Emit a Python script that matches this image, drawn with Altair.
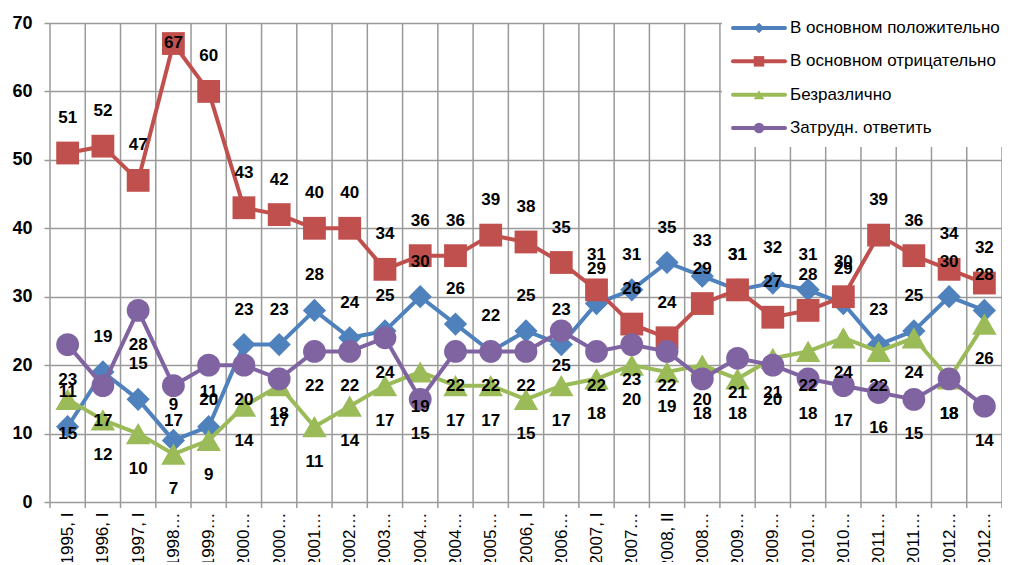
import json
import altair as alt
import pandas as pd

# ---------------- data ----------------
categories = ["1995, I", "1996, I", "1997, I", "1998…", "1999…", "2000…", "2000…",
              "2001…", "2002…", "2003…", "2004…", "2004…", "2005…", "2006, I",
              "2006…", "2007, I", "2007…", "2008, II", "2008…", "2009…", "2009…",
              "2010…", "2010…", "2011…", "2011…", "2012…", "2012…"]

series_names = ["В основном положительно", "В основном отрицательно",
                "Безразлично", "Затрудн. ответить"]

positive = [11, 19, 15, 9, 11, 23, 23, 28, 24, 25, 30, 26, 22, 25, 23, 29, 31,
            35, 33, 31, 32, 31, 29, 23, 25, 30, 28]
negative = [51, 52, 47, 67, 60, 43, 42, 40, 40, 34, 36, 36, 39, 38, 35, 31, 26,
            24, 29, 31, 27, 28, 30, 39, 36, 34, 32]
indifferent = [15, 12, 10, 7, 9, 14, 17, 11, 14, 17, 19, 17, 17, 15, 17, 18, 20,
               19, 20, 18, 21, 22, 24, 22, 24, 18, 26]
hard_to_say = [23, 17, 28, 17, 20, 20, 18, 22, 22, 24, 15, 22, 22, 22, 25, 22, 23,
               22, 18, 21, 20, 18, 17, 16, 15, 18, 14]

y_ticks = [0, 10, 20, 30, 40, 50, 60, 70]

# ---------------- styles ----------------
colors = ["#4F81BD", "#C0504D", "#9BBB59", "#8064A2"]
shapes = ["diamond", "square", "triangle-up", "circle"]
marker_sizes = [540, 520, 600, 520]
label_dy = [-35, -35, 35, 35]
FONT = "Liberation Sans"
GRID = "#9a9a9a"
W, H = 952, 479

all_values = [positive, negative, indifferent, hard_to_say]
rows = []
for s, vals in zip(series_names, all_values):
    for i, v in enumerate(vals):
        rows.append({"i": i, "cat": categories[i], "series": s, "value": v})
df = pd.DataFrame(rows)

n = len(categories)
bounds = pd.DataFrame({"b": [k - 0.5 for k in range(n + 1)]})

label_expr = json.dumps(categories, ensure_ascii=False) + "[datum.value]"


def x_enc(field):
    return alt.X(
        f"{field}:Q",
        scale=alt.Scale(domain=[-0.5, n - 0.5], nice=False, zero=False),
        axis=alt.Axis(values=list(range(n)), labelExpr=label_expr, labelAngle=-90,
                      labelFontSize=17, labelFont=FONT, labelColor="#000",
                      labelPadding=10, ticks=False, tickSize=0, grid=False,
                      domain=False, title=None, labelOverlap=False, labelLimit=0),
    )


def y_enc(field="value"):
    return alt.Y(
        f"{field}:Q",
        scale=alt.Scale(domain=[0, 70], nice=False, zero=True),
        axis=alt.Axis(values=y_ticks, grid=True, gridColor=GRID, gridWidth=1.5,
                      tickColor=GRID, tickWidth=1.5, tickSize=6, domain=False,
                      labelFontSize=18, labelFontWeight="bold", labelFont=FONT,
                      labelColor="#000", labelPadding=12, title=None),
    )


color_scale = alt.Scale(domain=series_names, range=colors)
shape_scale = alt.Scale(domain=series_names, range=shapes)
color_enc = alt.Color("series:N", scale=color_scale, legend=None)
shape_enc = alt.Shape("series:N", scale=shape_scale, legend=None)

grid_rules = alt.Chart(bounds).mark_rule(color=GRID, strokeWidth=1.5).encode(
    x=x_enc("b"), y=alt.value(0), y2=alt.value(H + 6)
)

series_layers = []
for k, s in enumerate(series_names):
    base = alt.Chart(df).transform_filter(alt.datum.series == s)
    line = base.mark_line(strokeWidth=4, strokeJoin="round", strokeCap="round").encode(
        x=x_enc("i"), y=y_enc(), color=color_enc
    )
    pts = base.mark_point(filled=True, opacity=1, size=marker_sizes[k]).encode(
        x=x_enc("i"), y=y_enc(), color=color_enc, shape=shape_enc
    )
    series_layers += [line, pts]

label_layers = []
for k, s in enumerate(series_names):
    lab = (
        alt.Chart(df)
        .transform_filter(alt.datum.series == s)
        .transform_calculate(ly="min(datum.value, 62)")
        .mark_text(dy=label_dy[k], fontSize=17, fontWeight="bold", font=FONT,
                   color="#000", baseline="middle")
        .encode(x=x_enc("i"), y=y_enc("ly"), text="value:Q")
    )
    label_layers.append(lab)

data_layer = alt.layer(grid_rules, *series_layers, *label_layers)

# ---------------- legend ----------------
legend_df = pd.DataFrame({"series": series_names, "row": list(range(len(series_names)))})
ly = alt.Y("row:Q", scale=alt.Scale(domain=[0, 3], range=[5, 105]), axis=None)

leg_bg = alt.Chart(legend_df.head(1)).mark_rect(color="white").encode(
    x=alt.value(672), x2=alt.value(965), y=alt.value(-23), y2=alt.value(124)
)
leg_lines = alt.Chart(legend_df).mark_rule(strokeWidth=4, strokeCap="round").encode(
    x=alt.value(683), x2=alt.value(735), y=ly, color=color_enc
)
leg_pts = alt.Chart(legend_df).mark_point(filled=True, opacity=1, size=110).encode(
    x=alt.value(709), y=ly, color=color_enc, shape=shape_enc
)
leg_txt = alt.Chart(legend_df).mark_text(
    align="left", baseline="middle", fontSize=17, font=FONT, color="#000"
).encode(x=alt.value(740), y=ly, text="series:N")

legend_layer = alt.layer(leg_bg, leg_lines, leg_pts, leg_txt)

chart = (
    alt.layer(data_layer, legend_layer)
    .resolve_scale(y="independent")
    .properties(
        width=W,
        height=H,
        autosize=alt.AutoSizeParams(type="none"),
        padding={"left": 42, "top": 15, "right": 0, "bottom": 60},
        background="white",
    )
    .configure_view(stroke=None)
)

chart.save("out.html", embed_options={"renderer": "svg", "actions": False})
